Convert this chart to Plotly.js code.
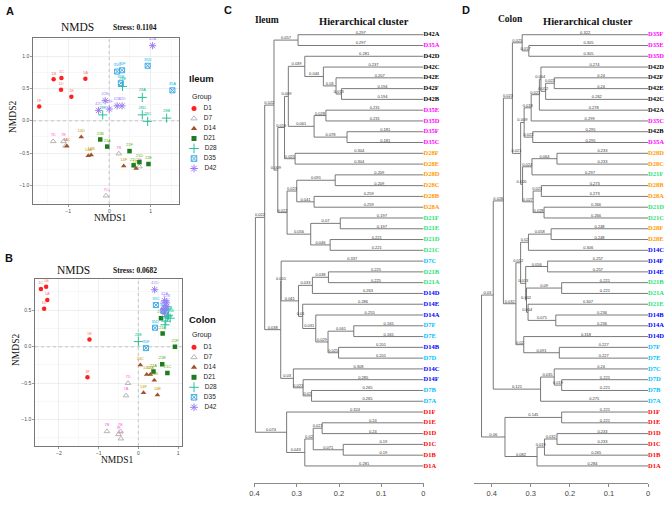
<!DOCTYPE html>
<html><head><meta charset="utf-8">
<script src="https://cdn.plot.ly/plotly-3.0.1.min.js"></script>
<style>html,body{margin:0;padding:0;background:#fff}#chart{width:669px;height:509px}</style>
</head><body><div id="chart"></div>
<script>
// ---------------- DATA ----------------
const groups = ['D1','D7','D14','D21','D28','D35','D42'];

// Ileum NMDS (panel A)
const ileumGroup = ['D1','D1','D1','D1','D1','D1','D7','D7','D7','D7','D7','D7','D14','D14','D14','D14','D14','D14','D21','D21','D21','D21','D21','D21','D28','D28','D28','D28','D28','D28','D35','D35','D35','D35','D35','D42','D42','D42','D42','D42','D42'];
const ileumLabel = ['1F','1B','1C','1D','1E','1A','7D','7E','7A','7B','7F','7C','14D','14C','14A','14B','14F','14E','21B','21A','21F','21C','21D','21E','28F','28E','28A','28D','28C','28B','35C','35F','35E','35D','35A','42A','42E','42C','42F','42B','42D'];
const ileumX = [-1.70,-1.35,-1.16,-1.17,-0.92,-0.58, -1.36,-1.11,-1.06,0.23,0.73,-0.08, -0.68,-1.03,-0.51,-0.44,0.35,0.65, -0.22,-0.05,0.49,0.59,0.73,0.95, -0.16,0.32,0.80,0.80,0.93,1.39, 0.19,0.31,0.28,0.93,1.53, 1.05,-0.10,-0.26,0.00,0.19,0.31];
const ileumY = [0.22,0.64,0.66,0.48,0.37,0.65, -0.32,-0.32,-0.39,-0.51,-0.71,-1.16, -0.25,-0.39,-0.54,-0.53,-0.70,-0.74, -0.29,-0.40,-0.47,-0.69,-0.64,-0.67, 0.09,0.53,0.36,0.09,-0.01,0.04, 0.76,0.78,0.58,0.85,0.47, 1.16,0.31,0.16,0.18,0.23,0.23];
const ileumStress = '0.1104';

// Colon NMDS (panel B)
const colonGroup = ileumGroup.slice();
const colonLabel = ['1C','1B','1A','1D','1E','1F','7D','7A','7B','7E','7F','7C','14C','14D','14A','14B','14F','14E','21A','21B','21C','21F','21D','21E','28E','28A','28B','28C','28D','28F','35C','35D','35F','35A','35E','42D','42A','42B','42C','42E','42F'];
const colonX = [-2.45,-2.32,-2.29,-2.37,-1.23,-1.28, -0.26,-0.31,-0.79,-0.45,-0.50,-0.44, 0.05,0.21,0.30,0.40,0.13,0.48, 0.38,0.60,0.73,0.92,0.57,0.61, 0.00,0.76,0.80,0.69,0.67,0.73, 0.44,0.42,0.19,0.63,0.68, 0.41,0.66,0.71,0.71,0.63,0.66];
const colonY = [0.79,0.82,0.64,0.52,0.10,-0.42, -0.50,-0.67,-1.16,-1.16,-1.20,-1.26, -0.25,-0.38,-0.38,-0.46,-0.63,-0.66, -0.34,-0.24,-0.36,0.00,0.39,0.18, 0.07,0.43,0.39,0.35,0.30,0.41, 0.57,0.26,-0.02,0.49,0.53, 0.78,0.63,0.60,0.55,0.51,0.46];
const colonStress = '0.0682';

// Ileum hierarchical tree (panel C): [left, right, merge height]
const ilD42 = ['D42D', ['D42C', ['D42E', ['D42F','D42B',0.194], 0.207], 0.237], 0.281];
const ilD35 = [['D35E','D35D',0.231], ['D35F','D35C',0.181], 0.259];
const ilQ1 = [[ilD42, ilD35, 0.320], ['D28F','D28E',0.304], 0.329];
const ilQ2 = [[['D28D','D28C',0.209], ['D28B','D28A',0.259], 0.300], [['D21F','D21E',0.197], ['D21D','D21C',0.221], 0.267], 0.323];
const ilP1 = [['D42A','D35A',0.297], [ilQ1, ilQ2, 0.345], 0.354];
const ilV1 = [[['D21B','D21A',0.225], 'D14D', 0.263], ['D14E', ['D14A', [['D7F','D7E',0.165], ['D14B','D7D',0.201], 0.226], 0.255], 0.286], 0.296];
const ilV2 = ['D14C', ['D14F', ['D7B','D7A',0.265], 0.285], 0.308];
const ilD1 = ['D1F', [[['D1E','D1D',0.24], ['D1C','D1B',0.19], 0.261], 'D1A', 0.281], 0.324];
const ileumTree = [[ilP1, [['D7C', ilV1, 0.337], ilV2, 0.338], 0.376], ilD1, 0.398];

// Colon hierarchical tree (panel D)
const coT = ['D35F', ['D35E','D35D',0.305], 0.322];
const coG42 = [[[['D42D', [['D42F','D42E',0.24], 'D42C', 0.262], 0.274], 'D42A', 0.278], 'D35C', 0.299], ['D42B','D35A',0.295], 0.317];
const coY = [[['D28D','D28C',0.233], 'D21F', 0.297], [['D28B','D28A',0.273], ['D21D','D21C',0.266], 0.294], 0.321];
const coL1 = [[['D28F','D28E',0.248], 'D14C', 0.306], [['D14F','D14E',0.257], [['D21B','D21A',0.221], ['D21E', ['D14B','D14A',0.236], 0.307], 0.311], 0.313], 0.326];
const coL = [coL1, ['D14D', ['D7F','D7E',0.227], 0.318], 0.338];
const coD7 = [['D7C', ['D7D','D7B',0.221], 0.24], 'D7A', 0.275];
const coD1 = [['D1F','D1E',0.221], [[['D1D','D1C',0.233], 'D1B', 0.265], 'D1A', 0.284], 0.366];
const colonTree = [[[[coT, [coG42, coY, 0.326], 0.347], coL, 0.370], coD7, 0.396], coD1, 0.426];

const dendroTicks = [0.4, 0.3, 0.2, 0.1, 0];

// ---------------- STYLE ----------------
const symbols = {D1:'circle', D7:'triangle-up-open', D14:'triangle-up', D21:'square', D28:'cross-thin-open', D35:'square-x-open', D42:'asterisk-open'};
const mColors = {D1:'#FF1F1F', D7:'#B5B5B5', D14:'#A0522D', D21:'#1E7B1E', D28:'#2BBF9C', D35:'#3FA9E6', D42:'#9C7CF2'};
const mSizes = {D1:4.5, D7:5, D14:5, D21:4.5, D28:6.5, D35:5, D42:6};
const labColors = {D1:'#F8766D', D7:'#FB61D7', D14:'#C49A00', D21:'#53B400', D28:'#00C094', D35:'#00B6EB', D42:'#A58AFF'};
const leafColors = {D1:'#FF0000', D7:'#00BFFF', D14:'#0000FF', D21:'#1FE27A', D28:'#FF9900', D35:'#FF00FF', D42:'#000000'};
const openSym = s => s.indexOf('open') >= 0;

const W = 669, H = 509;
const fx = p => p / W, fy = p => 1 - p / H;

const traces = [];

function scatterPanel(G, L, X, Y, xa, ya) {
  groups.forEach(g => {
    const idx = G.map((v, i) => v === g ? i : -1).filter(i => i >= 0);
    traces.push({
      type: 'scatter', mode: 'markers+text', xaxis: xa, yaxis: ya,
      x: idx.map(i => X[i]), y: idx.map(i => Y[i]), text: idx.map(i => L[i]),
      textposition: 'top center', textfont: {size: 4, color: labColors[g], family: 'Liberation Sans'},
      marker: {symbol: symbols[g], size: mSizes[g], color: mColors[g],
               line: {color: mColors[g], width: openSym(symbols[g]) ? 1 : 0}},
      hoverinfo: 'skip'
    });
  });
}
scatterPanel(ileumGroup, ileumLabel, ileumX, ileumY, 'x', 'y');
scatterPanel(colonGroup, colonLabel, colonX, colonY, 'x2', 'y2');

const fmt = v => String(parseFloat(v.toFixed(3)));
function dendro(tree, xa, ya) {
  const leaves = [], lx = [], ly = [], tx = [], ty = [], tt = [];
  function walk(n) {
    if (typeof n === 'string') { leaves.push(n); return {y: leaves.length - 1, h: 0}; }
    const a = walk(n[0]), b = walk(n[1]), h = n[2];
    lx.push(h, h, null); ly.push(a.y, b.y, null);
    [a, b].forEach(c => {
      lx.push(h, c.h, null); ly.push(c.y, c.y, null);
      tx.push((h + c.h) / 2); ty.push(c.y); tt.push(fmt(h - c.h));
    });
    return {y: (a.y + b.y) / 2, h: h};
  }
  walk(tree);
  traces.push({type: 'scatter', mode: 'lines', x: lx, y: ly, xaxis: xa, yaxis: ya,
    line: {color: '#6a6a6a', width: 0.9}, hoverinfo: 'skip'});
  traces.push({type: 'scatter', mode: 'text', x: tx, y: ty, text: tt, xaxis: xa, yaxis: ya,
    textposition: 'top center', textfont: {size: 4, color: '#333', family: 'Liberation Sans'},
    cliponaxis: false, hoverinfo: 'skip'});
  traces.push({type: 'scatter', mode: 'text', x: leaves.map(() => 0), y: leaves.map((_, i) => i),
    text: leaves.map(s => '<b>' + s + '</b>'), xaxis: xa, yaxis: ya,
    textposition: 'middle right',
    textfont: {size: 6.5, family: 'Liberation Serif', color: leaves.map(s => leafColors[s.match(/^D\d+/)[0]])},
    cliponaxis: false, hoverinfo: 'skip'});
}
dendro(ileumTree, 'x3', 'y3');
dendro(colonTree, 'x4', 'y4');

// legends (drawn on a full-page overlay axis in pixel units)
function legend(top) {
  groups.forEach((g, i) => {
    traces.push({type: 'scatter', mode: 'markers+text', xaxis: 'x5', yaxis: 'y5',
      x: [194], y: [top + i * 10], text: ['   ' + g], textposition: 'middle right',
      textfont: {size: 6.5, color: '#222', family: 'Liberation Sans'},
      marker: {symbol: symbols[g], size: mSizes[g] + 0.5, color: mColors[g],
               line: {color: mColors[g], width: openSym(symbols[g]) ? 1 : 0}},
      cliponaxis: false, hoverinfo: 'skip'});
  });
}
legend(108.5);
legend(347.3);

function scatterAxis(dom, rng, dtick, anchor, fmtStr) {
  return {domain: dom, range: rng, anchor: anchor, tick0: 0, dtick: dtick, tickformat: fmtStr,
    showgrid: true, gridcolor: '#E2E2E2', gridwidth: 0.6,
    minor: {dtick: dtick / 2, showgrid: true, gridcolor: '#F1F1F1', gridwidth: 0.5},
    zeroline: false, showline: true, mirror: true, linecolor: '#555', linewidth: 0.8,
    ticks: 'outside', ticklen: 2, tickwidth: 0.6, tickcolor: '#555',
    tickfont: {size: 5, color: '#4d4d4d', family: 'Liberation Sans'}, fixedrange: true};
}
function dendroX(dom, rng, anchor) {
  return {domain: dom, range: rng, anchor: anchor,
    tickvals: dendroTicks, ticktext: dendroTicks.map(String), showgrid: false, zeroline: false,
    showline: true, linecolor: '#8a8a8a', linewidth: 1, ticks: 'outside', ticklen: 3, tickwidth: 1,
    tickcolor: '#8a8a8a', tickfont: {size: 7.5, color: '#444', family: 'Liberation Sans'}, fixedrange: true};
}
function dendroY(anchor) {
  return {domain: [fy(483.3), fy(20)], range: [41.61, -1.364], visible: false, fixedrange: true, anchor: anchor};
}

function ann(text, x, y, font, opts) {
  return Object.assign({text: text, xref: 'paper', yref: 'paper', x: fx(x), y: fy(y), showarrow: false,
    xanchor: 'center', yanchor: 'middle', font: font}, opts || {});
}
const sans = (s, c) => ({size: s, color: c || '#111', family: 'Liberation Sans'});
const serif = (s, c) => ({size: s, color: c || '#111', family: 'Liberation Serif'});

const annotations = [
  ann('<b>A</b>', 10, 11, sans(11)),
  ann('NMDS', 77, 27, serif(11.5)),
  ann('<b>Stress: ' + ileumStress + '</b>', 111, 28, serif(7.5), {xanchor: 'left'}),
  ann('NMDS1', 109.5, 218, serif(9.5)),
  ann('NMDS2', 13, 117, serif(9.5), {textangle: -90}),
  ann('<b>Ileum</b>', 186.5, 78, sans(9.5), {xanchor: 'left'}),
  ann('Group', 189.5, 97, sans(7, '#222'), {xanchor: 'left'}),
  ann('<b>B</b>', 9, 258, sans(11)),
  ann('NMDS', 73, 270, serif(11.5)),
  ann('<b>Stress: ' + colonStress + '</b>', 111, 270.5, serif(7.5), {xanchor: 'left'}),
  ann('NMDS1', 116.5, 460, serif(9.5)),
  ann('NMDS2', 16, 350, serif(9.5), {textangle: -90}),
  ann('<b>Colon</b>', 187.5, 319, sans(9.5), {xanchor: 'left'}),
  ann('Group', 189.5, 335.3, sans(7, '#222'), {xanchor: 'left'}),
  ann('<b>C</b>', 228, 10, sans(11)),
  ann('<b>Ileum</b>', 253, 20, serif(9.5), {xanchor: 'left'}),
  ann('<b>Hierarchical cluster</b>', 364, 21, serif(10.5)),
  ann('<b>D</b>', 466, 10, sans(11)),
  ann('<b>Colon</b>', 511, 19.5, serif(9.5)),
  ann('<b>Hierarchical cluster</b>', 587.5, 21.5, serif(10.5))
];

const zeroLine = {color: '#8c8c8c', width: 0.8, dash: 'dot'};
const shapes = [
  {type: 'line', layer: 'below', xref: 'x', yref: 'y domain', x0: 0, x1: 0, y0: 0, y1: 1, line: zeroLine},
  {type: 'line', layer: 'below', xref: 'x domain', yref: 'y', x0: 0, x1: 1, y0: 0, y1: 0, line: zeroLine},
  {type: 'line', layer: 'below', xref: 'x2', yref: 'y2 domain', x0: 0, x1: 0, y0: 0, y1: 1, line: zeroLine},
  {type: 'line', layer: 'below', xref: 'x2 domain', yref: 'y2', x0: 0, x1: 1, y0: 0, y1: 0, line: zeroLine}
];

const layout = {
  width: W, height: H, margin: {l: 0, r: 0, t: 0, b: 0}, showlegend: false,
  paper_bgcolor: '#ffffff', plot_bgcolor: 'rgba(0,0,0,0)',
  font: {family: 'Liberation Sans', color: '#333'},
  xaxis: scatterAxis([fx(33), fx(179)], [-1.85, 1.69], 1, 'y', ''),
  yaxis: scatterAxis([fy(204), fy(38)], [-1.288, 1.279], 0.5, 'x', '.1f'),
  xaxis2: scatterAxis([fx(35), fx(181.7)], [-2.60, 1.09], 1, 'y2', ''),
  yaxis2: scatterAxis([fy(446), fy(279.3)], [-1.36, 0.923], 0.5, 'x2', '.1f'),
  xaxis3: dendroX([fx(254.3), fx(423.7)], [0.4006, -0.0006], 'y3'),
  yaxis3: dendroY('x3'),
  xaxis4: dendroX([fx(474.1), fx(648.3)], [0.445, -0.0006], 'y4'),
  yaxis4: dendroY('x4'),
  xaxis5: {domain: [0, 1], range: [0, W], visible: false, anchor: 'y5', fixedrange: true},
  yaxis5: {domain: [0, 1], range: [H, 0], visible: false, anchor: 'x5', fixedrange: true},
  annotations: annotations, shapes: shapes
};

Plotly.newPlot('chart', traces, layout, {staticPlot: true, displayModeBar: false});
</script>
</body></html>
